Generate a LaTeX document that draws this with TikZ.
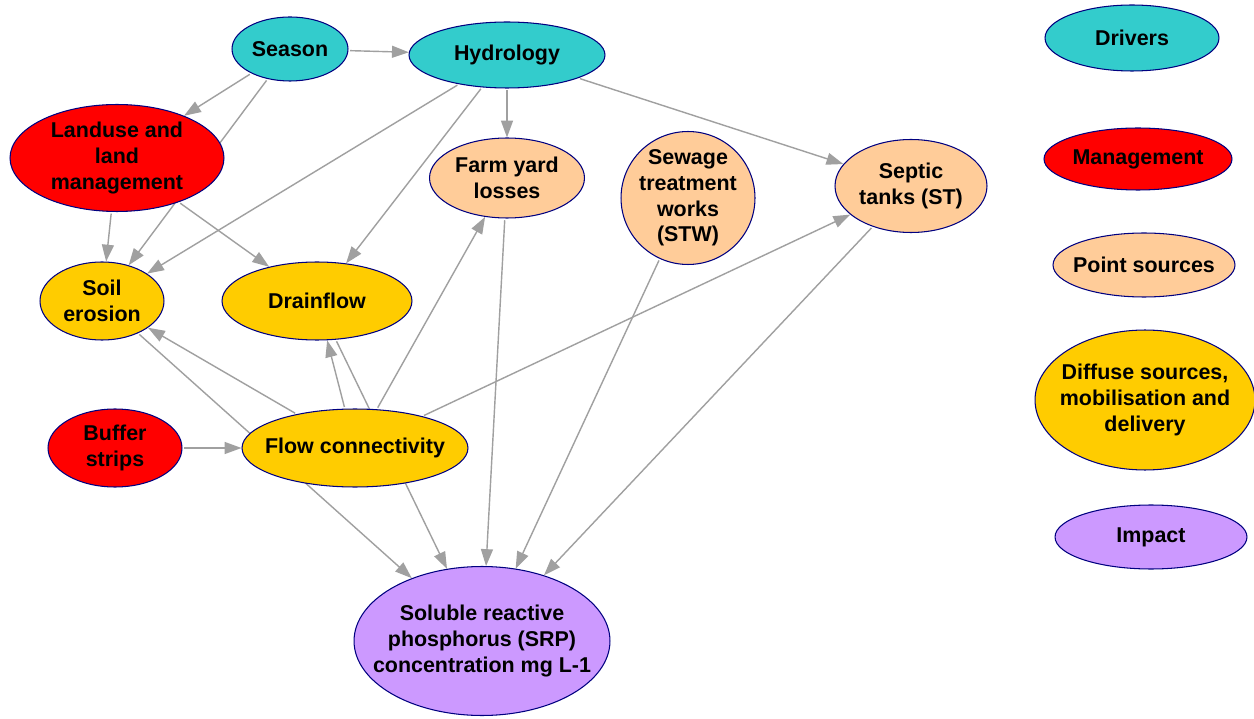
\documentclass[tikz,border=0pt]{standalone}
\usepackage{fontspec}
\setmainfont{Liberation Sans}
\usetikzlibrary{shapes.geometric,arrows.meta,backgrounds}
\definecolor{drivercol}{HTML}{33CCCC}
\definecolor{mgmtcol}{HTML}{FF0000}
\definecolor{pointcol}{HTML}{FFCC99}
\definecolor{diffcol}{HTML}{FFCC00}
\definecolor{impactcol}{HTML}{CC99FF}
\definecolor{rimcol}{HTML}{000080}
\definecolor{linkcol}{HTML}{A0A0A0}
\begin{document}
\begin{tikzpicture}[x=0.02cm,y=-0.02cm,
  lbl/.style={align=center, inner sep=0pt, font=\fontsize{12.2pt}{14.7pt}\selectfont\bfseries},
  blob/.style={ellipse, draw=rimcol, line width=0.6pt, inner sep=0pt},
  drv/.style={blob, fill=drivercol},
  mgm/.style={blob, fill=mgmtcol},
  pts/.style={blob, fill=pointcol},
  dif/.style={blob, fill=diffcol},
  imp/.style={blob, fill=impactcol},
  link/.style={draw=linkcol, line width=0.8pt, shorten <=1pt,
    -{Triangle[length=9.6pt,width=6.8pt]}, color=linkcol}]
\useasboundingbox (0,0) rectangle (1254,719);

% model nodes (size fixed by the ellipse, text set as a centred label)
\node[drv, minimum width=2.32cm, minimum height=1.28cm, label={[lbl]center:Season}] (season) at (290,49) {};
\node[drv, minimum width=3.92cm, minimum height=1.32cm, label={[lbl]center:Hydrology}] (hydro) at (507,55) {};
\node[mgm, minimum width=4.28cm, minimum height=2.14cm, label={[lbl]center:{Landuse and\\land\\management}}] (landuse) at (117,158) {};
\node[pts, minimum width=3.10cm, minimum height=1.60cm, label={[lbl]center:{Farm yard\\losses}}] (farm) at (507,178) {};
\node[pts, minimum width=2.68cm, minimum height=2.66cm, label={[lbl]center:{Sewage\\treatment\\works\\(STW)}}] (stw) at (688,198) {};
\node[pts, minimum width=3.04cm, minimum height=1.86cm, label={[lbl]center:{Septic\\tanks (ST)}}] (septic) at (911,186) {};
\node[dif, minimum width=2.48cm, minimum height=1.56cm, label={[lbl]center:{Soil\\erosion}}] (soil) at (102,301) {};
\node[dif, minimum width=3.80cm, minimum height=1.56cm, label={[lbl]center:Drainflow}] (drain) at (317,301) {};
\node[mgm, minimum width=2.68cm, minimum height=1.56cm, label={[lbl]center:{Buffer\\strips}}] (buffer) at (115,448) {};
\node[dif, minimum width=4.52cm, minimum height=1.56cm, label={[lbl]center:Flow connectivity}] (flow) at (355,448) {};
\node[imp, minimum width=5.12cm, minimum height=2.98cm, label={[lbl]center:{Soluble reactive\\phosphorus (SRP)\\concentration mg L-1}}] (srp) at (482,641) {};

% key
\node[drv, minimum width=3.48cm, minimum height=1.32cm, label={[lbl]center:Drivers}] (kdrv) at (1132,38) {};
\node[mgm, minimum width=3.76cm, minimum height=1.24cm, label={[lbl]center:Management}] (kmgm) at (1138,159) {};
\node[pts, minimum width=3.64cm, minimum height=1.28cm, label={[lbl]center:Point sources}] (kpts) at (1144,265) {};
\node[dif, minimum width=4.40cm, minimum height=2.80cm, label={[lbl]center:{Diffuse sources,\\mobilisation and\\delivery}}] (kdif) at (1145,400) {};
\node[imp, minimum width=3.84cm, minimum height=1.28cm, label={[lbl]center:Impact}] (kimp) at (1151,537) {};

% causal links, kept behind the nodes
\begin{pgfonlayer}{background}
\fill[white] (0,0) rectangle (1254,719);
\draw[link] (season) -- (hydro);
\draw[link] (season) -- (landuse);
\draw[link] (season) -- (soil);
\draw[link] (landuse) -- (soil);
\draw[link] (landuse) -- (drain);
\draw[link] (hydro) -- (soil);
\draw[link] (hydro) -- (drain);
\draw[link] (hydro) -- (farm);
\draw[link] (hydro) -- (septic);
\draw[link] (flow) -- (soil);
\draw[link] (flow) -- (drain);
\draw[link] (flow) -- (farm);
\draw[link] (flow) -- (septic);
\draw[link] (buffer) -- (flow);
\draw[link] (soil) -- (srp);
\draw[link] (drain) -- (srp);
\draw[link] (farm) -- (srp);
\draw[link] (stw) -- (srp);
\draw[link] (septic) -- (srp);
\end{pgfonlayer}
\end{tikzpicture}
\end{document}
